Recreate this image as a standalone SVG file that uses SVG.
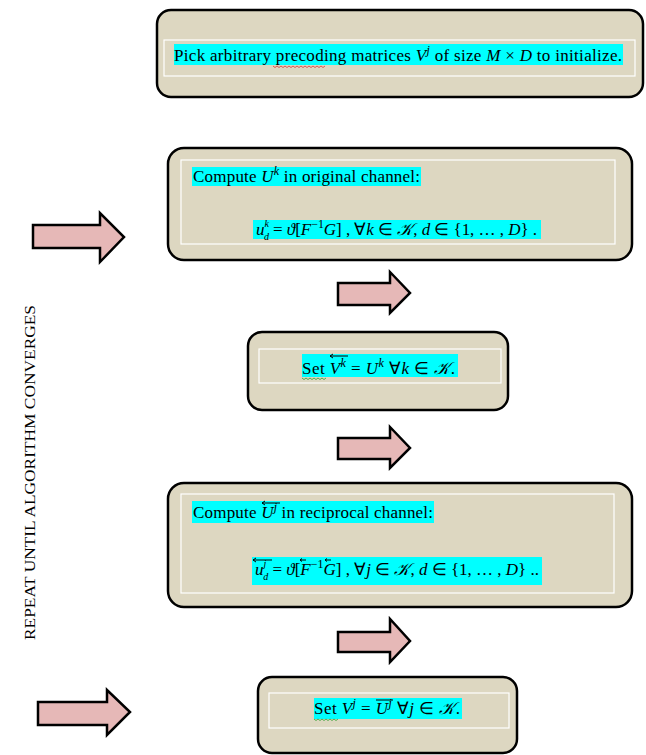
<svg xmlns="http://www.w3.org/2000/svg" width="646" height="755" viewBox="0 0 646 755">
<style>
.box{fill:#ddd7c1;stroke:#000;stroke-width:2.5}
.inner{fill:none;stroke:#fff;stroke-width:1.2}
.hl{fill:#00ffff}
.t{font-family:"Liberation Serif","Times New Roman",serif;font-size:17px;fill:#000}
.i{font-style:italic}
.s{font-size:12px}
.ss{font-size:10px}
.arr{fill:#e6b8b7;stroke:#000;stroke-width:2.5;stroke-linejoin:miter}
.ov{fill:none;stroke:#000;stroke-width:1}
.wr{fill:none;stroke:#e03030;stroke-width:0.8}
.wg{fill:none;stroke:#30a030;stroke-width:0.8}
.side{font-family:"Liberation Serif","Times New Roman",serif;font-size:15px;fill:#000}
</style>
<rect width="646" height="755" fill="#fff"/>
<g id="connectors">
<polygon class="arr" points="33,225 100,225 100,213 124,237 100,262 100,248 33,248"/>
<polygon class="arr" points="338,283 390,283 390,272 410,293 390,313 390,305 338,305"/>
<polygon class="arr" points="338,438 390,438 390,427 410,448 390,468 390,459 338,459"/>
<polygon class="arr" points="338,632 390,632 390,619 410,641 390,662 390,652 338,652"/>
<polygon class="arr" points="38,702 107,702 107,690 130,712 107,735 107,725 38,725"/>
</g>
<g id="node-init">
<rect class="box" x="157" y="10" width="486" height="87" rx="14"/>
<rect class="inner" x="164" y="40" width="471" height="36"/>
<rect class="hl" x="174" y="44" width="449" height="21"/>
<text class="t" x="174" y="61" textLength="448" lengthAdjust="spacing">Pick arbitrary precoding matrices <tspan class="i">V</tspan><tspan class="i s" dy="-7">j</tspan><tspan dy="7"> of size </tspan><tspan class="i">M</tspan> × <tspan class="i">D</tspan> to initialize.</text>
<path class="wr" d="M273,66 l2,1.5 l2,-1.5 l2,1.5 l2,-1.5 l2,1.5 l2,-1.5 l2,1.5 l2,-1.5 l2,1.5 l2,-1.5 l2,1.5 l2,-1.5 l2,1.5 l2,-1.5 l2,1.5 l2,-1.5 l2,1.5 l2,-1.5 l2,1.5 l2,-1.5 l2,1.5 l2,-1.5 l2,1.5 l2,-1.5 l2,1.5 l2,-1.5"/>
</g>
<g id="node-compute-u">
<rect class="box" x="168" y="148" width="464" height="112" rx="16"/>
<rect class="inner" x="181" y="160" width="434" height="84"/>
<rect class="hl" x="192" y="167" width="229" height="19"/>
<text class="t" x="193" y="182" textLength="227" lengthAdjust="spacing">Compute <tspan class="i">U</tspan><tspan class="i s" dy="-7">k</tspan><tspan dy="7"> in original channel:</tspan></text>
<rect class="hl" x="253" y="220" width="288" height="19"/>
<text class="t" x="256" y="235" textLength="281" lengthAdjust="spacing"><tspan class="i">u</tspan><tspan class="i ss" dy="-8">k</tspan><tspan class="i ss" dx="-5" dy="13">d</tspan><tspan dy="-5"> = </tspan><tspan class="i">ϑ</tspan>[<tspan class="i">F</tspan><tspan class="s" dy="-7">−1</tspan><tspan class="i" dy="7">G</tspan>] , ∀<tspan class="i">k</tspan> ∈ <tspan class="i">𝒦</tspan>, <tspan class="i">d</tspan> ∈ {1, … , <tspan class="i">D</tspan>} .</text>
</g>
<g id="node-set-v">
<rect class="box" x="248" y="332" width="260" height="78" rx="14"/>
<rect class="inner" x="259" y="349" width="242" height="34"/>
<rect class="hl" x="302" y="354" width="156" height="23"/>
<text class="t" x="302" y="374" textLength="153" lengthAdjust="spacing">Set <tspan class="i">V</tspan><tspan class="i s" dy="-7">k</tspan><tspan dy="7"> = </tspan><tspan class="i">U</tspan><tspan class="i s" dy="-7">k</tspan><tspan dy="7"> ∀</tspan><tspan class="i">k</tspan> ∈ <tspan class="i">𝒦</tspan>.</text>
<path class="ov" d="M330,356 H348 M330,356 l3,-2 M330,356 l3,2"/>
<path class="wg" d="M302,378 l2,1.5 l2,-1.5 l2,1.5 l2,-1.5 l2,1.5 l2,-1.5 l2,1.5 l2,-1.5 l2,1.5 l2,-1.5 l2,1.5 l2,-1.5"/>
</g>
<g id="node-compute-ur">
<rect class="box" x="168" y="483" width="464" height="124" rx="16"/>
<rect class="inner" x="181" y="494" width="433" height="99"/>
<rect class="hl" x="192" y="501" width="242" height="22"/>
<text class="t" x="193" y="518" textLength="240" lengthAdjust="spacing">Compute <tspan class="i">U</tspan><tspan class="i s" dy="-7">j</tspan><tspan dy="7"> in reciprocal channel:</tspan></text>
<path class="ov" d="M262,503 H280 M262,503 l3,-2 M262,503 l3,2"/>
<rect class="hl" x="252" y="557" width="290" height="28"/>
<text class="t" x="255" y="575" textLength="284" lengthAdjust="spacing"><tspan class="i">u</tspan><tspan class="i ss" dy="-8">j</tspan><tspan class="i ss" dx="-3" dy="13">d</tspan><tspan dy="-5"> = </tspan><tspan class="i">ϑ</tspan>[<tspan class="i">F</tspan><tspan class="s" dy="-7">−1</tspan><tspan class="i" dy="7">G</tspan>] , ∀<tspan class="i">j</tspan> ∈ <tspan class="i">𝒦</tspan>, <tspan class="i">d</tspan> ∈ {1, … , <tspan class="i">D</tspan>} ..</text>
<path class="ov" d="M253,560 H272 M253,560 l3,-2 M253,560 l3,2"/>
<path class="ov" d="M300,560 H306 M300,560 l2,-1.5 M300,560 l2,1.5 M325,560 H331 M325,560 l2,-1.5 M325,560 l2,1.5"/>
</g>
<g id="node-set-vr">
<rect class="box" x="258" y="677" width="259" height="76" rx="14"/>
<rect class="inner" x="269" y="693" width="240" height="35"/>
<rect class="hl" x="314" y="698" width="148" height="21"/>
<text class="t" x="314" y="714" textLength="146" lengthAdjust="spacing">Set <tspan class="i">V</tspan><tspan class="i s" dy="-7">j</tspan><tspan dy="7"> = </tspan><tspan class="i">U</tspan><tspan class="i s" dy="-7">j</tspan><tspan dy="7"> ∀</tspan><tspan class="i">j</tspan> ∈ <tspan class="i">𝒦</tspan>.</text>
<path class="ov" d="M376,700 H393"/>
<path class="wg" d="M314,719 l2,1.5 l2,-1.5 l2,1.5 l2,-1.5 l2,1.5 l2,-1.5 l2,1.5 l2,-1.5 l2,1.5 l2,-1.5 l2,1.5 l2,-1.5"/>
</g>
<g id="label-repeat">
<text class="side" transform="translate(35,640) rotate(-90)" textLength="335" lengthAdjust="spacingAndGlyphs">REPEAT UNTIL ALGORITHM CONVERGES</text>
</g>
</svg>
